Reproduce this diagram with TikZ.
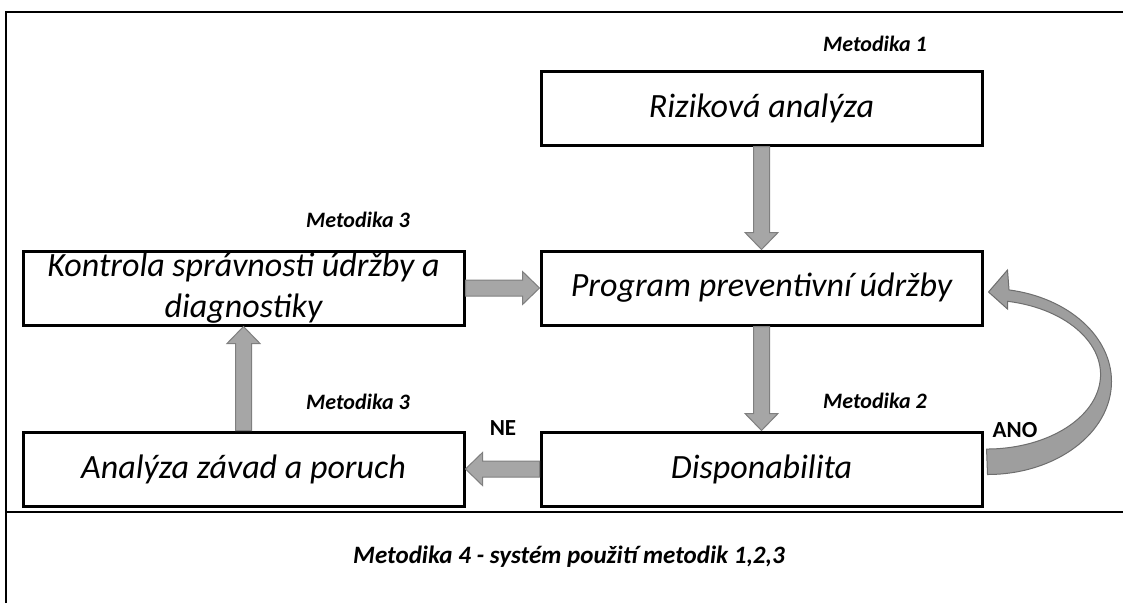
\documentclass[tikz,border=0pt]{standalone}
\usepackage{fontspec}
\setmainfont{Carlito}
\usetikzlibrary{calc,positioning}

\definecolor{arrfill}{HTML}{A6A6A6}
\definecolor{arrline}{HTML}{7F7F7F}
\definecolor{loopfill}{HTML}{9E9E9E}
\definecolor{loopline}{HTML}{6E6E6E}

\tikzset{
  box/.style={draw, line width=3pt, minimum width=441pt, minimum height=74pt,
    inner sep=0pt, align=center, font=\fontsize{34}{41}\selectfont\itshape},
  tag/.style={anchor=base, inner sep=0pt, font=\fontsize{22}{26}\selectfont\bfseries\itshape},
  answer/.style={anchor=base, inner sep=0pt, font=\fontsize{23}{27}\selectfont\bfseries},
  frame/.style={line width=2.5pt},
  blockarr/.style={fill=arrfill, draw=arrline, line width=1pt},
}

% wide grey arrow from #1 to #2
\newcommand{\blockarrow}[2]{%
  \coordinate (ba-h) at ($(#2)!17pt!(#1)$);
  \draw[blockarr] ($(#1)!8pt!90:(#2)$) -- ($(ba-h)!8pt!-90:(#1)$)
    -- ($(ba-h)!16.5pt!-90:(#1)$) -- (#2) -- ($(ba-h)!16.5pt!90:(#1)$)
    -- ($(ba-h)!8pt!90:(#1)$) -- ($(#1)!8pt!-90:(#2)$) -- cycle;
}

\begin{document}
\begin{tikzpicture}[x=1pt, y=-1pt]
    \useasboundingbox (0,0) rectangle (1123,603);

    % frame
    \draw[frame] (6,603) -- (6,12) -- (1123,12);
    \draw[frame] (6,512) -- (1123,512);

    % boxes
    \node[box] (riz) at (761.5,108) {Riziková analýza};
    \node[box, below=103pt of riz] (prog) {Program preventivní údržby};
    \node[box, below=104pt of prog] (disp) {Disponabilita};
    \node[box, left=74pt of prog] (kont) {Kontrola správnosti údržby a\\diagnostiky};
    \node[box, left=74pt of disp] (anal) {Analýza závad a poruch};

    % labels
    \node[tag] (m1) at (875,51) {Metodika 1};
    \node[tag] (m3a) at (358,227) {Metodika 3};
    \node[tag] (m2) at (875,408) {Metodika 2};
    \node[tag] (m3b) at (358,409) {Metodika 3};
    \node[answer] (ne) at (503,435) {NE};
    \node[answer] (ano) at (1015,437) {ANO};
    \node[tag, font=\fontsize{25}{29}\selectfont\bfseries\itshape] (m4) at (569,563)
      {Metodika 4 - systém použití metodik 1,2,3};

    % arrows
    \blockarrow{riz.south}{prog.north}
    \blockarrow{prog.south}{disp.north}
    \blockarrow{kont.east}{prog.west}
    \blockarrow{disp.west}{anal.east}
    \blockarrow{anal.north}{kont.south}

    % ANO loop back
    \draw[fill=loopfill, draw=loopline, line width=1pt]
      ($(disp.east)+(4,5.5)$) arc[start angle=90, end angle=-80, x radius=124, y radius=93]
      -- (1007.5,270) -- ($(prog.east)+(5,4)$) -- (1007.5,309) -- (1007.5,301.3)
      arc[start angle=-79.4, end angle=90, x radius=114, y radius=74.5] -- cycle;

\end{tikzpicture}
\end{document}
